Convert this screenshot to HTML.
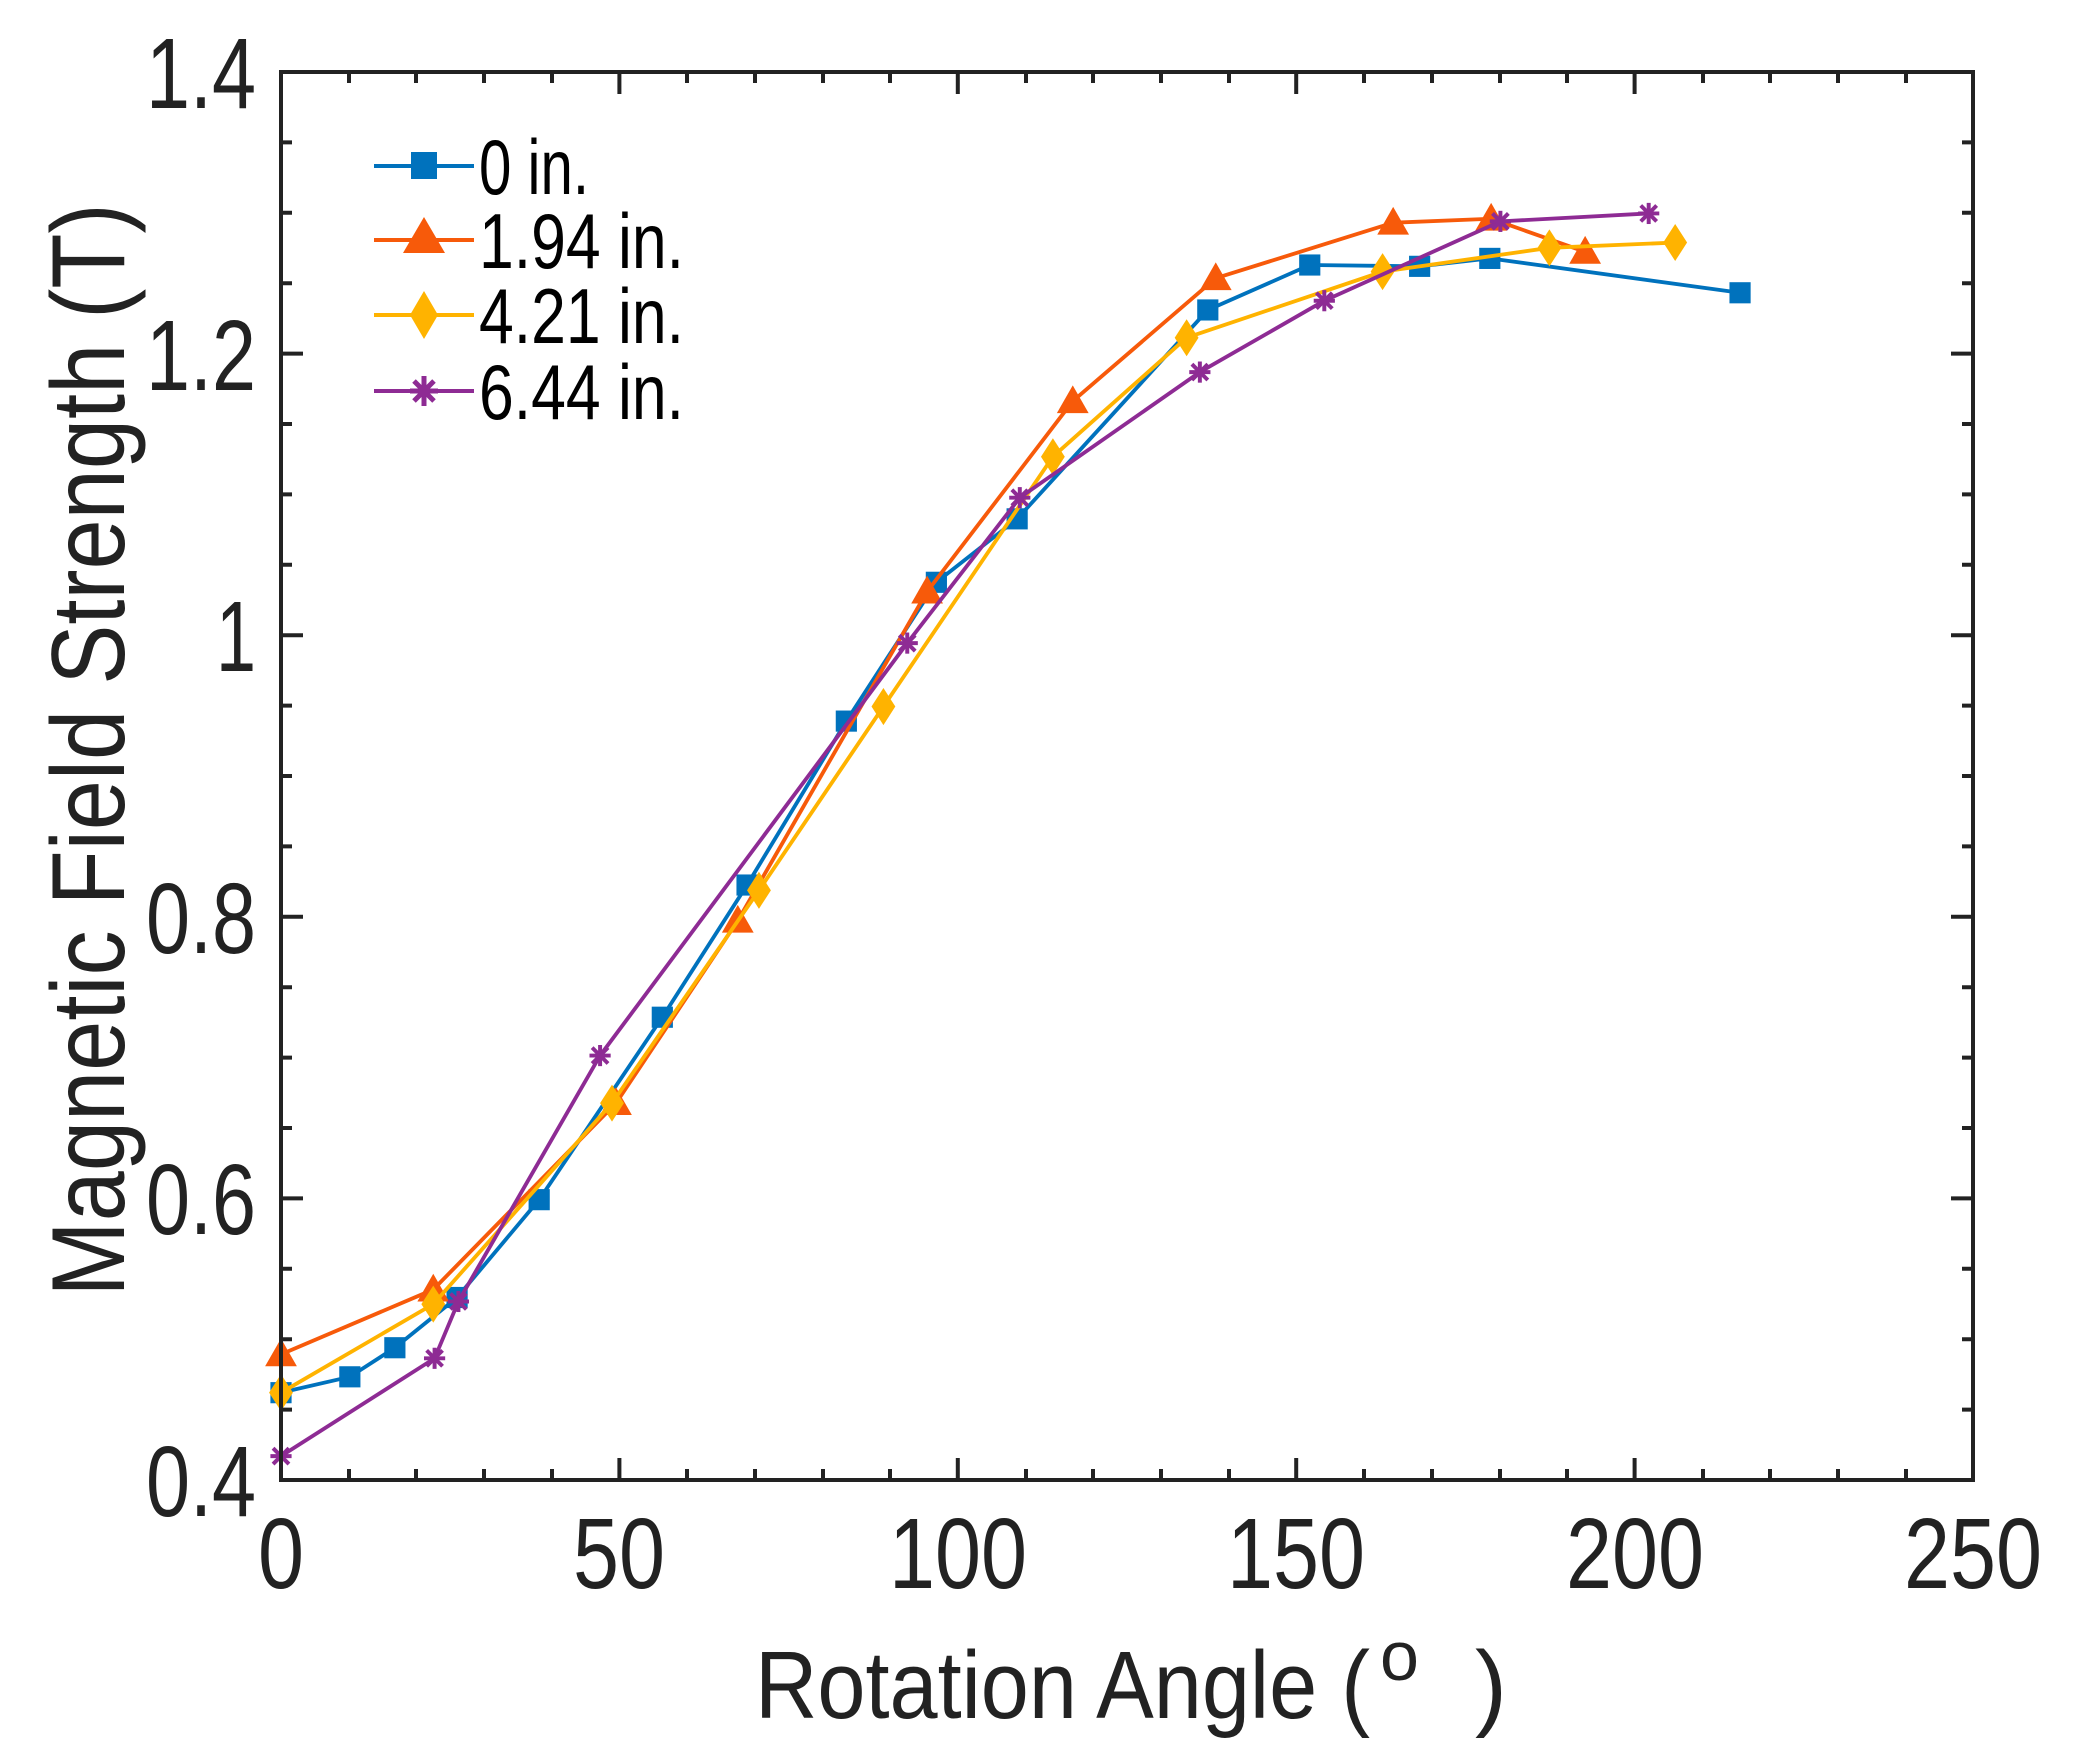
<!DOCTYPE html>
<html><head><meta charset="utf-8"><style>html,body{margin:0;padding:0;background:#fff}svg{display:block}</style></head>
<body>
<svg width="2076" height="1764" viewBox="0 0 2076 1764" xmlns="http://www.w3.org/2000/svg" font-family="Liberation Sans, Arial, sans-serif">
<defs>
<marker id="sq" markerUnits="userSpaceOnUse" markerWidth="20" markerHeight="20" refX="10" refY="10" overflow="visible"><rect x="2" y="2" width="16" height="16" fill="#0072BD"/></marker>
<marker id="tr" markerUnits="userSpaceOnUse" markerWidth="24" markerHeight="24" refX="12" refY="12" overflow="visible"><polygon points="12,0 24,21 0,21" fill="#F75A0A"/></marker>
<marker id="di" markerUnits="userSpaceOnUse" markerWidth="24" markerHeight="28" refX="12" refY="14" overflow="visible"><polygon points="12,0 21,14 12,28 3,14" fill="#FFB300"/></marker>
<marker id="st" markerUnits="userSpaceOnUse" markerWidth="20" markerHeight="20" refX="10" refY="10" overflow="visible"><g stroke="#8E2B94" stroke-width="3"><line x1="10" y1="2" x2="10" y2="18"/><line x1="2" y1="10" x2="18" y2="10"/><line x1="4" y1="4" x2="16" y2="16"/><line x1="16" y1="4" x2="4" y2="16"/></g></marker>
</defs>
<g fill="none" stroke-linejoin="round" transform="translate(281,72) scale(1.324,1.322) translate(-212,-52)">
<polyline stroke="#0072BD" stroke-width="2.9" marker-start="url(#sq)" marker-mid="url(#sq)" marker-end="url(#sq)" points="212,1051 264,1039 298,1017 345,979 407,905 500,767 564,667 639,543 707,438 768,390 912,232 989,198 1072,199 1125,193 1314,219"/>
<polyline stroke="#F75A0A" stroke-width="2.9" marker-start="url(#tr)" marker-mid="url(#tr)" marker-end="url(#tr)" points="212,1022 327,973 465,832 557,694 700,445 810,301 918,208 1052,166 1126,163 1197,188"/>
<polyline stroke="#FFB300" stroke-width="2.9" marker-start="url(#di)" marker-mid="url(#di)" marker-end="url(#di)" points="212,1051 327,984 462,832 573,671 667,532 795,343 896,253 1044,203 1170,185 1265,181"/>
<polyline stroke="#8E2B94" stroke-width="2.9" marker-start="url(#st)" marker-mid="url(#st)" marker-end="url(#st)" points="212,1099 328,1025 346,982 453,796 685,484 770,374 906,279 1000,225 1133,165 1245,159"/>
</g>
<g stroke="#222" stroke-width="4" fill="none">
<rect x="281" y="72" width="1692" height="1408"/>
<path d="M281,1480v-22M619.4,1480v-22M957.8,1480v-22M1296.2,1480v-22M1634.6,1480v-22M281,72v22M619.4,72v22M957.8,72v22M1296.2,72v22M1634.6,72v22
M349,1480v-11M416,1480v-11M484,1480v-11M552,1480v-11M687,1480v-11M755,1480v-11M823,1480v-11M890,1480v-11M1026,1480v-11M1093,1480v-11M1161,1480v-11M1229,1480v-11M1364,1480v-11M1432,1480v-11M1500,1480v-11M1567,1480v-11M1703,1480v-11M1770,1480v-11M1838,1480v-11M1906,1480v-11
M349,72v11M416,72v11M484,72v11M552,72v11M687,72v11M755,72v11M823,72v11M890,72v11M1026,72v11M1093,72v11M1161,72v11M1229,72v11M1364,72v11M1432,72v11M1500,72v11M1567,72v11M1703,72v11M1770,72v11M1838,72v11M1906,72v11
M281,353.6h22M281,635.2h22M281,916.8h22M281,1198.4h22M1973,353.6h-22M1973,635.2h-22M1973,916.8h-22M1973,1198.4h-22
M281,142.4h11M281,212.8h11M281,283.2h11M281,424h11M281,494.4h11M281,564.8h11M281,705.6h11M281,776h11M281,846.4h11M281,987.2h11M281,1057.6h11M281,1128h11M281,1268.8h11M281,1339.2h11M281,1409.6h11
M1973,142.4h-11M1973,212.8h-11M1973,283.2h-11M1973,424h-11M1973,494.4h-11M1973,564.8h-11M1973,705.6h-11M1973,776h-11M1973,846.4h-11M1973,987.2h-11M1973,1057.6h-11M1973,1128h-11M1973,1268.8h-11M1973,1339.2h-11M1973,1409.6h-11"/>
</g>
<g fill="#222" font-size="100" text-anchor="middle">
<text x="281" y="1588" textLength="46" lengthAdjust="spacingAndGlyphs">0</text>
<text x="619" y="1588" textLength="92" lengthAdjust="spacingAndGlyphs">50</text>
<text x="958" y="1588" textLength="138" lengthAdjust="spacingAndGlyphs">100</text>
<text x="1296" y="1588" textLength="138" lengthAdjust="spacingAndGlyphs">150</text>
<text x="1635" y="1588" textLength="138" lengthAdjust="spacingAndGlyphs">200</text>
<text x="1973" y="1588" textLength="138" lengthAdjust="spacingAndGlyphs">250</text>
</g>
<g fill="#222" font-size="100" text-anchor="end">
<text x="256" y="108" textLength="110" lengthAdjust="spacingAndGlyphs">1.4</text>
<text x="256" y="390" textLength="110" lengthAdjust="spacingAndGlyphs">1.2</text>
<text x="256" y="671" textLength="40" lengthAdjust="spacingAndGlyphs">1</text>
<text x="256" y="953" textLength="110" lengthAdjust="spacingAndGlyphs">0.8</text>
<text x="256" y="1234" textLength="110" lengthAdjust="spacingAndGlyphs">0.6</text>
<text x="256" y="1516" textLength="110" lengthAdjust="spacingAndGlyphs">0.4</text>
</g>
<text x="755" y="1718" font-size="96" fill="#222" textLength="615" lengthAdjust="spacingAndGlyphs">Rotation Angle (</text>
<text x="1380" y="1680" font-size="70" fill="#222">o</text>
<text x="1475" y="1718" font-size="96" fill="#222">)</text>
<text transform="translate(124,750) rotate(-90)" font-size="104" fill="#222" text-anchor="middle" textLength="1093" lengthAdjust="spacingAndGlyphs">Magnetic Field Strength (T)</text>
<g stroke-width="4">
<line x1="374" y1="166" x2="474" y2="166" stroke="#0072BD"/><rect x="411" y="152" width="26" height="27" fill="#0072BD"/>
<line x1="374" y1="240" x2="474" y2="240" stroke="#F75A0A"/><polygon points="424,217 445,253 403,253" fill="#F75A0A"/>
<line x1="374" y1="315" x2="474" y2="315" stroke="#FFB300"/><polygon points="424,291 438,315 424,339 410,315" fill="#FFB300"/>
<line x1="374" y1="391" x2="474" y2="391" stroke="#8E2B94"/>
<g stroke="#8E2B94" stroke-width="5"><line x1="424" y1="376" x2="424" y2="406"/><line x1="410" y1="391" x2="438" y2="391"/><line x1="414" y1="381" x2="434" y2="401"/><line x1="434" y1="381" x2="414" y2="401"/></g>
</g>
<g fill="#000" font-size="78">
<text x="479" y="194" textLength="110" lengthAdjust="spacingAndGlyphs">0 in.</text>
<text x="479" y="268" textLength="205" lengthAdjust="spacingAndGlyphs">1.94 in.</text>
<text x="479" y="343" textLength="205" lengthAdjust="spacingAndGlyphs">4.21 in.</text>
<text x="479" y="419" textLength="205" lengthAdjust="spacingAndGlyphs">6.44 in.</text>
</g>
</svg>
</body></html>
